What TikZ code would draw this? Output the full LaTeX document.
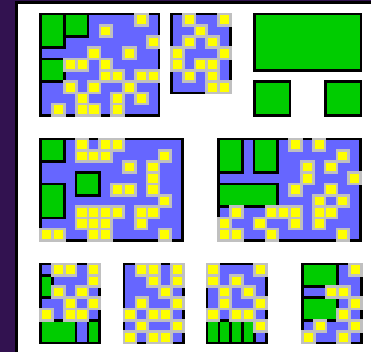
\documentclass[tikz,border=0pt]{standalone}
\usepackage{tikz}
\definecolor{bgpurple}{HTML}{321250}
\definecolor{bluec}{HTML}{6666FF}
\definecolor{greenc}{HTML}{00CC00}
\definecolor{yellowc}{HTML}{FFFF00}
\definecolor{greyc}{HTML}{C0C0C0}
\tikzset{
  panelfill/.style={fill=bluec},
  panelborder/.style={draw=black, line width=2.7pt},
  greenbox/.style={draw=black, fill=greenc, line width=2.7pt},
  ycell/.style={draw=greyc, fill=yellowc, line width=2.7pt},
  gridunit/.style={x=11.83pt, y=-11.26pt}
}
\begin{document}
\begin{tikzpicture}
\useasboundingbox (0pt,0pt) rectangle (371pt,-352pt);
% frame
\fill[bgpurple] (0pt,0pt) rectangle (371pt,-352pt);
\fill[white] (16pt,-1.5pt) rectangle (372pt,-353pt);
\draw[black, line width=3pt] (16.7pt,-353pt) -- (16.7pt,-2.6pt) -- (372pt,-2.6pt);

% Panel 1
\begin{scope}[shift={(40.7pt,-14.05pt)}, gridunit]
  \fill[panelfill] (0,0) rectangle (10,9);
  \draw[panelborder] (0,0) rectangle (10,9);
  \draw[greenbox] (0,0) rectangle (2,3);
  \draw[greenbox] (2,0) rectangle (4,2);
  \draw[greenbox] (0,4) rectangle (2,6);
  \foreach \c/\r in {8/0,5/1,9/2,4/3,7/3,2/4,3/4,5/4,5/5,6/5,8/5,9/5,2/6,4/6,7/6,3/7,6/7,8/7,1/8,3/8,4/8,6/8}
    \draw[ycell] (\c,\r) rectangle ++(1,1);
\end{scope}

% Panel 2
\begin{scope}[shift={(171.35pt,-14.05pt)}, gridunit]
  \fill[panelfill] (0,0) rectangle (5,7);
  \draw[panelborder] (0,0) rectangle (5,7);
  \foreach \c/\r in {1/0,4/0,2/1,1/2,3/2,0/3,4/3,0/4,2/4,3/4,1/5,3/5,3/6,4/6}
    \draw[ycell] (\c,\r) rectangle ++(1,1);
\end{scope}

% Panel 3
\begin{scope}[shift={(254.65pt,-14.05pt)}, gridunit]
  \draw[greenbox] (0,0) rectangle (9,5);
  \draw[greenbox] (0,6) rectangle (3,9);
  \draw[greenbox] (6,6) rectangle (9,9);
\end{scope}

% Panel 4
\begin{scope}[shift={(40.65pt,-139.05pt)}, gridunit]
  \fill[panelfill] (0,0) rectangle (12,9);
  \draw[panelborder] (0,0) rectangle (12,9);
  \draw[greenbox] (0,0) rectangle (2,2);
  \draw[greenbox] (3,3) rectangle (5,5);
  \draw[greenbox] (0,4) rectangle (2,7);
  \foreach \c/\r in {3/0,5/0,6/0,3/1,4/1,5/1,10/1,7/2,9/2,9/3,6/4,7/4,9/4,10/5,3/6,4/6,5/6,6/6,8/6,9/6,3/7,4/7,5/7,8/7,0/8,1/8,4/8,5/8,10/8}
    \draw[ycell] (\c,\r) rectangle ++(1,1);
\end{scope}

% Panel 5
\begin{scope}[shift={(218.65pt,-139.05pt)}, gridunit]
  \fill[panelfill] (0,0) rectangle (12,9);
  \draw[panelborder] (0,0) rectangle (12,9);
  \draw[greenbox] (0,0) rectangle (2,3);
  \draw[greenbox] (3,0) rectangle (5,3);
  \draw[greenbox] (0,4) rectangle (5,6);
  \foreach \c/\r in {6/0,8/0,10/1,7/2,9/2,7/3,11/3,6/4,9/4,8/5,10/5,1/6,4/6,5/6,6/6,8/6,9/6,0/7,3/7,6/7,8/7,0/8,1/8,4/8,10/8}
    \draw[ycell] (\c,\r) rectangle ++(1,1);
\end{scope}

% Panel A
\begin{scope}[shift={(40.65pt,-264.05pt)}, gridunit]
  \fill[panelfill] (0,0) rectangle (5,7);
  \draw[panelborder] (0,0) rectangle (5,7);
  \draw[greenbox] (0,1) rectangle (1,3);
  \draw[greenbox] (0,5) rectangle (3,7);
  \draw[greenbox] (4,5) rectangle (5,7);
  \foreach \c/\r in {1/0,2/0,4/0,4/1,1/2,3/2,2/3,4/3,0/4,2/4,3/4}
    \draw[ycell] (\c,\r) rectangle ++(1,1);
\end{scope}

% Panel B
\begin{scope}[shift={(124.05pt,-264.05pt)}, gridunit]
  \fill[panelfill] (0,0) rectangle (5,7);
  \draw[panelborder] (0,0) rectangle (5,7);
  \foreach \c/\r in {1/0,2/0,4/0,2/1,4/1,3/2,1/3,4/3,0/4,2/4,3/4,1/5,4/5,0/6,2/6,3/6}
    \draw[ycell] (\c,\r) rectangle ++(1,1);
\end{scope}

% Panel C
\begin{scope}[shift={(207.05pt,-264.05pt)}, gridunit]
  \fill[panelfill] (0,0) rectangle (5,7);
  \draw[panelborder] (0,0) rectangle (5,7);
  \foreach \c in {0,1,2,3}
    \draw[greenbox] (\c,5) rectangle ++(1,2);
  \foreach \c/\r in {0/0,4/0,0/1,2/1,1/2,3/2,1/3,4/3,0/4,2/4,3/4,4/5}
    \draw[ycell] (\c,\r) rectangle ++(1,1);
\end{scope}

% Panel D
\begin{scope}[shift={(302.35pt,-264.05pt)}, gridunit]
  \fill[panelfill] (0,0) rectangle (5,7);
  \draw[panelborder] (0,0) rectangle (5,7);
  \draw[greenbox] (0,0) rectangle (3,2);
  \draw[greenbox] (0,3) rectangle (3,5);
  \foreach \c/\r in {4/0,2/2,3/2,4/3,3/4,1/5,4/5,0/6,3/6}
    \draw[ycell] (\c,\r) rectangle ++(1,1);
\end{scope}
\end{tikzpicture}
\end{document}
